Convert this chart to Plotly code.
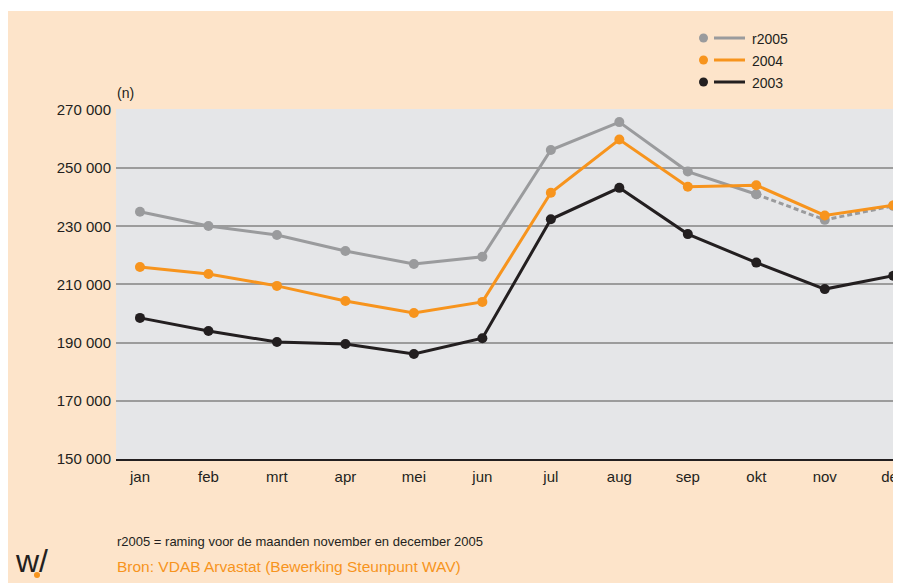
import plotly.graph_objects as go

# data
months = ["jan", "feb", "mrt", "apr", "mei", "jun", "jul", "aug", "sep", "okt", "nov", "dec"]
r2005 = [235000, 230100, 227000, 221500, 217000, 219500, 256200, 265800, 248800, 241000, 232200, 237000]
y2004 = [216000, 213600, 209500, 204300, 200200, 204000, 241500, 259800, 243600, 244100, 233700, 237200]
y2003 = [198500, 194000, 190200, 189500, 186100, 191500, 232400, 243200, 227300, 217500, 208400, 213000]
yticks = [150000, 170000, 190000, 210000, 230000, 250000, 270000]
ytick_text = ["150 000", "170 000", "190 000", "210 000", "230 000", "250 000", "270 000"]
n_real = 10  # r2005 is real up to okt, estimate for nov/dec

GRAY = "#9a9b9d"
ORANGE = "#f7941d"
BLACK = "#231f20"
FONT = "Liberation Sans"

W, H = 901, 583
ML, MR, MT, MB = 108, 0, 101, 132
PW, PH = W - ML - MR, H - MT - MB
OFF = 8  # page body margin


def px(x):
    # page pixel -> paper x
    return (x - OFF - ML) / PW


def py(y):
    # page pixel -> paper y
    return (H - (y - OFF) - MB) / PH


x = list(range(len(months)))

fig = go.Figure()

# r2005: dashed estimate + solid part
fig.add_trace(go.Scatter(x=x[n_real - 1:], y=r2005[n_real - 1:], mode="lines+markers",
                         line=dict(color=GRAY, width=3, dash="5px,3px"),
                         marker=dict(size=10, color=GRAY), showlegend=False))
fig.add_trace(go.Scatter(x=x[:n_real], y=r2005[:n_real], mode="lines+markers",
                         line=dict(color=GRAY, width=3),
                         marker=dict(size=10, color=GRAY), showlegend=False))
fig.add_trace(go.Scatter(x=x, y=y2004, mode="lines+markers",
                         line=dict(color=ORANGE, width=3),
                         marker=dict(size=10, color=ORANGE), showlegend=False))
fig.add_trace(go.Scatter(x=x, y=y2003, mode="lines+markers",
                         line=dict(color=BLACK, width=3),
                         marker=dict(size=10, color=BLACK), showlegend=False))

fig.update_xaxes(
    range=[-0.35, 11.23], tickvals=x, ticktext=months,
    showgrid=False, showline=True, linecolor=BLACK, linewidth=1.5,
    ticks="", ticklabelstandoff=3,
    tickfont=dict(family=FONT, size=15, color=BLACK),
    zeroline=False,
)
fig.update_yaxes(
    range=[150000, 270300], tickvals=yticks, ticktext=ytick_text,
    showgrid=True, gridcolor="#9c9c9c", gridwidth=1.5,
    ticks="", ticklabelstandoff=4,
    tickfont=dict(family=FONT, size=15, color=BLACK),
    zeroline=False, showline=False,
)

shapes = [
    # thin white strip at the very top of the page
    dict(type="rect", xref="paper", yref="paper", x0=px(0), x1=px(910),
         y0=py(11), y1=py(0), fillcolor="white", line=dict(width=0)),
]
annotations = []

# custom legend (dot, line, label) at top right
legend_items = [("r2005", GRAY), ("2004", ORANGE), ("2003", BLACK)]
for i, (name, col) in enumerate(legend_items):
    yc = 38 + 22 * i
    shapes.append(dict(type="circle", xref="paper", yref="paper",
                       x0=px(699), x1=px(708), y0=py(yc + 4.5), y1=py(yc - 4.5),
                       fillcolor=col, line=dict(width=0)))
    shapes.append(dict(type="line", xref="paper", yref="paper",
                       x0=px(714), x1=px(745), y0=py(yc), y1=py(yc),
                       line=dict(color=col, width=3)))
    annotations.append(dict(text=name, xref="paper", yref="paper",
                            x=px(750), y=py(yc + 1), xanchor="left", yanchor="middle",
                            showarrow=False, font=dict(family=FONT, size=14, color=BLACK)))

annotations += [
    dict(text="(n)", xref="paper", yref="paper", x=px(115), y=py(93),
         xanchor="left", yanchor="middle", showarrow=False,
         font=dict(family=FONT, size=14, color=BLACK)),
    dict(text="r2005 = raming voor de maanden november en december 2005",
         xref="paper", yref="paper", x=px(115), y=py(541),
         xanchor="left", yanchor="middle", showarrow=False,
         font=dict(family=FONT, size=13, color=BLACK)),
    dict(text="Bron: VDAB Arvastat (Bewerking Steunpunt WAV)",
         xref="paper", yref="paper", x=px(115), y=py(566),
         xanchor="left", yanchor="middle", showarrow=False,
         font=dict(family=FONT, size=15.5, color=ORANGE)),
    # logo
    dict(text="w/", xref="paper", yref="paper", x=px(13),
         y=py(561), xanchor="left", yanchor="middle",
         showarrow=False, font=dict(family=FONT, size=32, color=BLACK)),
]
shapes.append(dict(type="circle", xref="paper", yref="paper",
                   x0=px(34), x1=px(40), y0=py(578), y1=py(572),
                   fillcolor=ORANGE, line=dict(width=0)))

fig.update_layout(
    width=W, height=H,
    margin=dict(l=ML, r=MR, t=MT, b=MB),
    paper_bgcolor="#fde4ca",
    plot_bgcolor="#e5e6e8",
    shapes=shapes,
    annotations=annotations,
    showlegend=False,
)

fig.write_html("out.html")
